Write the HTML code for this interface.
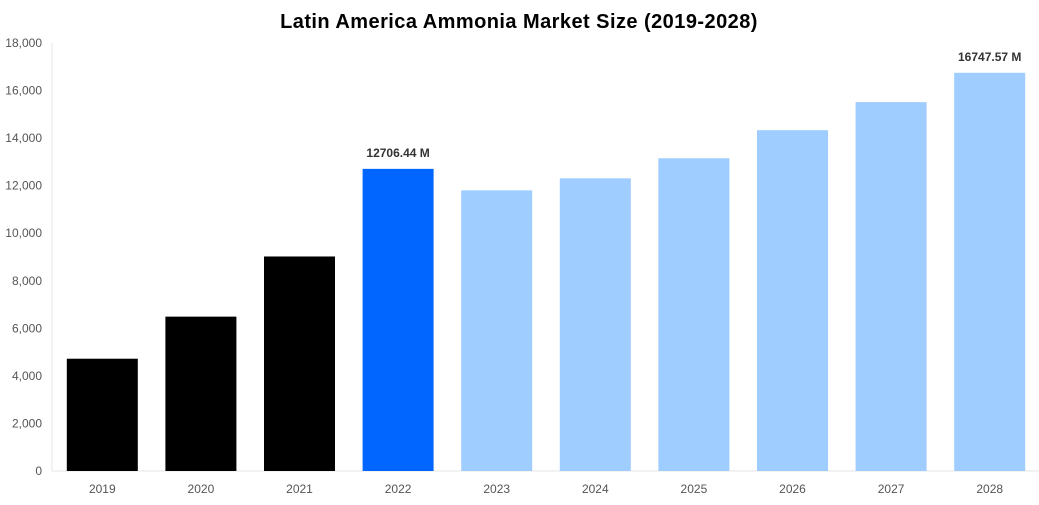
<!DOCTYPE html>
<html><head><meta charset="utf-8"><style>
body{margin:0;background:#fff;width:1039px;height:500px;overflow:hidden}
text{font-family:"Liberation Sans",Arial,sans-serif}
</style></head><body>
<svg id="chart" width="1039" height="500">
<text x="519" y="28" text-anchor="middle" font-size="20" font-weight="bold" letter-spacing="0.45" fill="#000">Latin America Ammonia Market Size (2019-2028)</text>
<g id="axes"></g><g id="bars"></g>
</svg>
<script>
const categories=["2019","2020","2021","2022","2023","2024","2025","2026","2027","2028"];
const values=[4722,6492,9022,12706.44,11804,12310,13153,14334,15514,16747.57];
const colors=["#000000","#000000","#000000","#0066ff","#a0cdff","#a0cdff","#a0cdff","#a0cdff","#a0cdff","#a0cdff"];
const labels=[null,null,null,"12706.44 M",null,null,null,null,null,"16747.57 M"];
const yTicks=[0,2000,4000,6000,8000,10000,12000,14000,16000,18000];
const NS="http://www.w3.org/2000/svg";
const x0=53,x1=1039,y0=471,yTop=43,yMax=18000;
const step=(x1-x0)/categories.length,bw=71;
const y=v=>y0-(v/yMax)*(y0-yTop);
const xc=i=>x0+step*(i+0.5);
const axes=document.getElementById('axes'),bars=document.getElementById('bars');
function mk(t,a,p){const e=document.createElementNS(NS,t);for(const k in a)e.setAttribute(k,a[k]);p.appendChild(e);return e;}
let l=mk('line',{x1:x0-1,x2:x0-1,y1:yTop,y2:y0,stroke:'#e6e6e6'},axes);


l=mk('line',{x1:x0-1,x2:x1,y1:y0,y2:y0,stroke:'#e6e6e6'},axes);


yTicks.forEach(v=>{const t=mk('text',{x:42,y:y(v)+4,'text-anchor':'end','font-size':12,fill:'#555'},axes);t.textContent=v.toLocaleString('en-US');

});
categories.forEach((c,i)=>{
const r=mk('rect',{x:xc(i)-bw/2,y:y(values[i]),width:bw,height:y0-y(values[i]),fill:colors[i]},bars);


const t=mk('text',{x:xc(i),y:493,'text-anchor':'middle','font-size':12,fill:'#555'},axes);t.textContent=c;


if(labels[i]){const v=mk('text',{x:xc(i),y:y(values[i])-12,'text-anchor':'middle','font-size':12,'font-weight':'bold',fill:'#333'},bars);v.textContent=labels[i];

}
});
</script>
</body></html>
